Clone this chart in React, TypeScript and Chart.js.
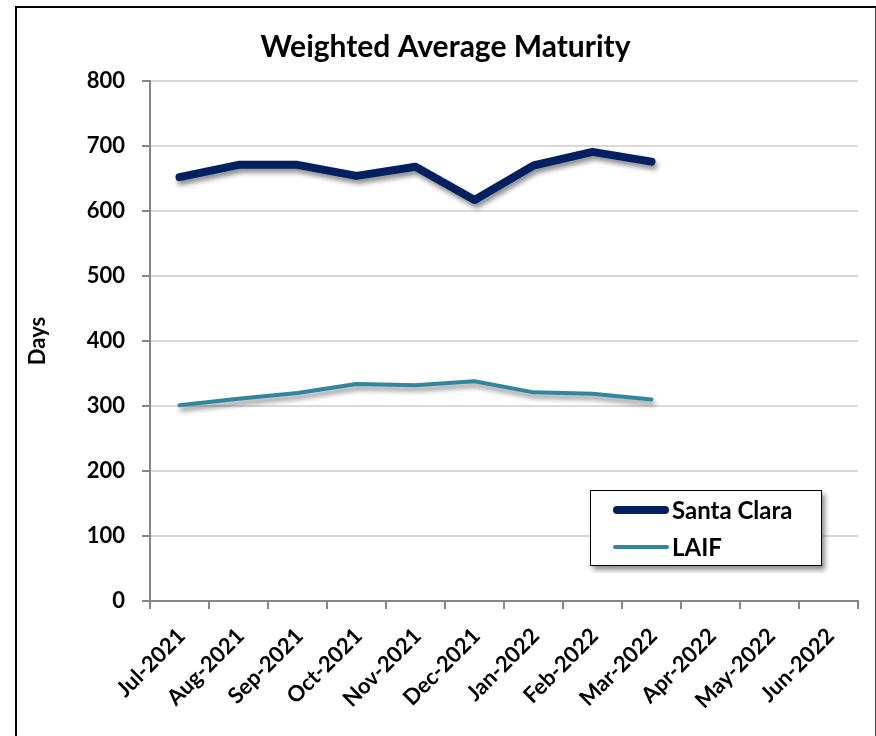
import React, { useEffect, useRef } from "react";
import { Chart, registerables } from "chart.js";

Chart.register(...registerables);

const months = [
  "Jul-2021", "Aug-2021", "Sep-2021", "Oct-2021", "Nov-2021", "Dec-2021",
  "Jan-2022", "Feb-2022", "Mar-2022", "Apr-2022", "May-2022", "Jun-2022",
];
const santaClara = [652, 671, 671, 654, 668, 617, 670, 691, 676];
const laif = [301, 311, 320, 334, 332, 338, 321, 319, 310];
const yTicks = [0, 100, 200, 300, 400, 500, 600, 700, 800];

const NAVY = "#002060";
const TEAL = "#31859C";
const FONT = "Lato, 'Open Sans', sans-serif";

const shadowPlugin = {
  id: "lineShadow",
  beforeDatasetDraw(chart: any) {
    const ctx = chart.ctx;
    ctx.save();
    ctx.shadowColor = "rgba(0,0,0,0.45)";
    ctx.shadowBlur = 5;
    ctx.shadowOffsetX = 2;
    ctx.shadowOffsetY = 4;
  },
  afterDatasetDraw(chart: any) {
    chart.ctx.restore();
  },
};

export default function App() {
  const ref = useRef<HTMLCanvasElement | null>(null);

  useEffect(() => {
    if (!ref.current) return;
    const chart = new Chart(ref.current, {
      type: "line",
      data: {
        labels: months,
        datasets: [
          {
            label: "Santa Clara",
            data: santaClara,
            borderColor: NAVY,
            backgroundColor: NAVY,
            borderWidth: 8,
            pointRadius: 0,
            borderCapStyle: "round",
            borderJoinStyle: "round",
            tension: 0,
          },
          {
            label: "LAIF",
            data: laif,
            borderColor: TEAL,
            backgroundColor: TEAL,
            borderWidth: 4,
            pointRadius: 0,
            borderCapStyle: "round",
            borderJoinStyle: "round",
            tension: 0,
          },
        ],
      },
      options: {
        animation: false,
        responsive: false,
        maintainAspectRatio: false,
        layout: { padding: { top: 0, right: 15, left: 16, bottom: 0 } },
        plugins: {
          legend: { display: false },
          tooltip: { enabled: false },
          title: {
            display: true,
            text: "Weighted Average Maturity",
            color: "#000",
            font: { family: FONT, size: 30, weight: "bold" },
            padding: { top: 21, bottom: 16 },
          },
        },
        scales: {
          x: {
            offset: true,
            grid: {
              offset: true,
              drawOnChartArea: false,
              drawTicks: true,
              tickLength: 8,
              tickColor: "#868686",
              lineWidth: 2,
            },
            border: { color: "#868686", width: 2 },
            ticks: {
              autoSkip: false,
              minRotation: 45,
              maxRotation: 45,
              color: "#000",
              padding: 14,
              labelOffset: 2,
              font: { family: FONT, size: 22, weight: "bold" },
            },
            afterFit(scale: any) {
              scale.height = 135;
            },
          },
          y: {
            min: 0,
            max: 800,
            afterBuildTicks(scale: any) {
              scale.ticks = yTicks.map((v) => ({ value: v }));
            },
            grid: {
              color: "#d9d9d9",
              lineWidth: 2,
              drawTicks: true,
              tickLength: 8,
              tickColor: "#868686",
            },
            border: { color: "#868686", width: 2 },
            ticks: {
              color: "#000",
              padding: 17,
              font: { family: FONT, size: 22, weight: "bold" },
            },
            title: {
              display: true,
              text: "Days",
              color: "#000",
              font: { family: FONT, size: 22, weight: "bold" },
              padding: { top: -8, bottom: 0 },
            },
            afterFit(scale: any) {
              scale.width = 117;
            },
          },
        },
      },
      plugins: [shadowPlugin],
    });
    return () => chart.destroy();
  }, []);

  const legendRow = (color: string, width: number, text: string) => (
    <div style={{ display: "flex", alignItems: "center", height: 39 }}>
      <div
        style={{
          width: 56,
          height: width,
          background: color,
          borderRadius: width / 2,
          marginLeft: 22,
          marginRight: 3,
        }}
      />
      <span style={{ fontFamily: FONT, fontWeight: "bold", fontSize: 24, color: "#000" }}>{text}</span>
    </div>
  );

  return (
    <div
      style={{
        position: "absolute",
        left: 15,
        top: 6,
        width: 858,
        height: 730,
        borderLeft: "2px solid #000",
        borderTop: "2px solid #000",
        borderRight: "1px solid #444",
        background: "#fff",
        overflow: "hidden",
      }}
    >
      <canvas ref={ref} width={856} height={728} style={{ display: "block" }} />
      <div
        style={{
          position: "absolute",
          left: 590 - 17,
          top: 490 - 8,
          width: 230,
          height: 74,
          border: "1.5px solid #000",
          background: "#fff",
          boxShadow: "3px 4px 5px rgba(0,0,0,0.45)",
          display: "flex",
          flexDirection: "column",
          justifyContent: "center",
        }}
      >
        {legendRow(NAVY, 8, "Santa Clara")}
        {legendRow(TEAL, 4, "LAIF")}
      </div>
    </div>
  );
}
